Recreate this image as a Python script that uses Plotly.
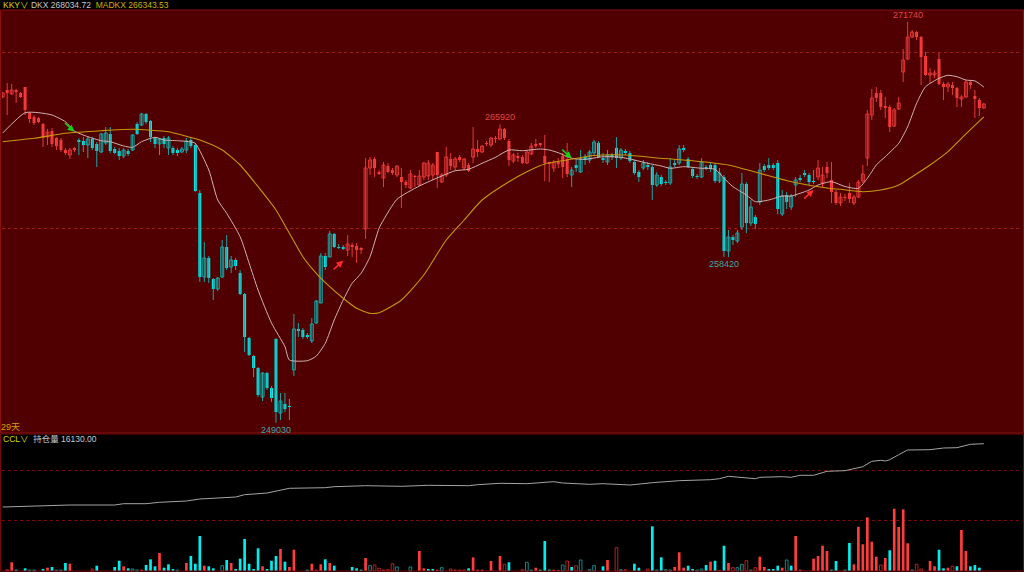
import plotly.graph_objects as go

# ---------------- data ----------------
open_ = [
    267470, 267866, 267640, 267866, 267696, 268036, 266564, 266338, 266281, 265942,
    265206, 265545, 265149, 265036, 264470, 264187, 264583, 265036, 264979, 264753,
    265093, 264810, 264357, 264866, 265376, 264527, 264413, 264130, 264413, 264470,
    265942, 265885, 266508, 266111, 265149, 264810, 265149, 264583, 264583, 264470,
    264357, 264470, 265036, 264753, 262036, 257282, 258357, 257169, 256603, 257282,
    258980, 257848, 258244, 257508, 256320, 253829, 252810, 252131, 250490, 251848,
    250999, 253773, 249584, 250094, 249980, 252018, 254339, 254282, 253999, 253659,
    254678, 255810, 258470, 258414, 259716, 258980, 258980, 258810, 259093, 259036,
    258923, 259999, 263451, 263961, 263225, 262885, 263564, 263338, 263055, 262942,
    262659, 262319, 262998, 262489, 262942, 262998, 263055, 264357, 262659, 263055,
    263961, 263508, 264074, 263451, 263621, 264074, 264527, 264357, 264866, 264753,
    265149, 265093, 265659, 264979, 263847, 264130, 264074, 263734, 264244, 264810,
    264866, 264130, 263791, 263451, 263791, 264130, 263961, 263055, 263621, 263225,
    264074, 263904, 264300, 264866, 264017, 263791, 264187, 264583, 264017, 264413,
    264300, 263791, 263225, 263451, 263621, 263508, 262489, 262942, 262659, 262602,
    263734, 263734, 264583, 263961, 263395, 262998, 262942, 263508, 263621, 263621,
    262715, 262942, 258753, 259546, 259319, 260112, 262546, 260338, 260678, 261527,
    263564, 263621, 263621, 263734, 260848, 261923, 261244, 262489, 262885, 263168,
    263055, 262715, 262942, 262602, 263508, 262772, 262093, 261470, 261810, 262036,
    261470, 261810, 262715, 264017, 266451, 267696, 267696, 266960, 266904, 265828,
    266791, 268885, 269621, 270866, 271149, 270866, 269790, 268715, 268715, 269621,
    268206, 268036, 268149, 267979, 267357, 267470, 268319, 267526, 267300, 266847,
]
high = [
    267753, 268262, 268206, 267923, 267753, 268036, 266621, 266451, 266338, 265998,
    265659, 265715, 265206, 265149, 264583, 264583, 264640, 265149, 265206, 265262,
    265206, 264923, 265432, 265772, 265772, 264640, 264583, 264583, 264527, 265376,
    266055, 266564, 266564, 266168, 265206, 265149, 265262, 265262, 264696, 264583,
    264640, 265149, 265149, 264866, 262206, 259263, 258470, 257225, 257282, 259376,
    259659, 258470, 258357, 257678, 256376, 253886, 252867, 252188, 251905, 251905,
    251112, 253829, 250716, 250716, 250377, 255188, 254678, 254395, 254112, 254961,
    255980, 258640, 258640, 259885, 259772, 259150, 259093, 259659, 259206, 259206,
    258980, 264017, 264074, 264074, 263338, 263791, 263734, 263451, 263621, 263451,
    262772, 263338, 263055, 263338, 263791, 263904, 263734, 264357, 263168, 264640,
    264300, 264074, 264187, 264017, 263734, 265772, 265036, 264753, 264979, 265206,
    265262, 265920, 265715, 265093, 264300, 264300, 264187, 264413, 264866, 265093,
    264866, 265319, 263791, 263904, 264017, 264300, 264866, 263508, 263961, 264470,
    264244, 264470, 265036, 264979, 264300, 264470, 264300, 265206, 264583, 264527,
    264413, 263904, 263338, 263904, 263791, 263621, 263225, 263055, 262772, 264017,
    263904, 264753, 264753, 264074, 263508, 263112, 264017, 263621, 263734, 263734,
    263451, 263055, 259942, 259659, 259942, 263168, 262659, 261640, 260791, 263734,
    263678, 264017, 263734, 263904, 262206, 262093, 261980, 262942, 263055, 263338,
    263168, 263338, 263904, 263508, 263791, 263791, 262206, 262036, 261980, 262602,
    261923, 262772, 263621, 266734, 267923, 268036, 267866, 267470, 267017, 266847,
    267470, 270187, 271740, 271262, 271205, 270922, 270017, 269111, 268998, 269960,
    268319, 268319, 268319, 268036, 267583, 268432, 268432, 267866, 267413, 267130,
]
low = [
    267413, 266451, 267583, 267130, 267413, 266451, 265998, 265885, 265998, 264640,
    264753, 264640, 264470, 264357, 264187, 263961, 264357, 264187, 264357, 264017,
    264470, 263508, 264300, 264753, 264300, 264244, 263904, 264017, 264130, 264413,
    265319, 265828, 265942, 264923, 264583, 264187, 264583, 264187, 264187, 264130,
    264300, 264300, 264583, 262093, 256999, 256999, 256942, 255980, 256489, 257225,
    257678, 257508, 257678, 256263, 253037, 252810, 251622, 250490, 250263, 250886,
    250207, 249030, 249188, 249641, 249188, 251678, 253886, 253773, 253773, 253546,
    254622, 255810, 257678, 258414, 258923, 258867, 258810, 258470, 258414, 258074,
    258584, 259433, 263055, 262942, 263055, 262376, 263168, 263055, 262942, 261187,
    262319, 262263, 262376, 262432, 262772, 262772, 262772, 262319, 262602, 262942,
    263338, 263338, 263791, 263338, 263225, 263734, 264074, 264300, 264696, 264640,
    264866, 265036, 265036, 263564, 263734, 263791, 263678, 263678, 264187, 264583,
    264640, 262715, 262659, 263225, 263451, 262885, 262942, 262376, 263225, 263168,
    263621, 263734, 264187, 264017, 263734, 263621, 263904, 263451, 263904, 264187,
    263734, 263055, 262659, 263338, 263338, 261640, 262376, 262432, 262489, 262489,
    263508, 263621, 264357, 263451, 262885, 262829, 262885, 263338, 263225, 262602,
    262602, 258420, 258414, 259093, 259206, 259942, 259772, 260168, 259999, 261357,
    263225, 263338, 263338, 260848, 260734, 261131, 261074, 261810, 262659, 262942,
    262489, 262546, 262772, 262376, 262885, 261470, 261357, 261300, 261583, 261470,
    261357, 261753, 262602, 263564, 266168, 267187, 266734, 266281, 265489, 265772,
    266734, 268319, 269564, 270809, 270696, 268149, 268658, 268262, 268545, 268149,
    267300, 267753, 267583, 266904, 266904, 267413, 267923, 266281, 266394, 266791,
]
close = [
    267696, 267696, 267866, 267753, 267470, 266734, 266225, 265998, 266055, 265149,
    265489, 264810, 264696, 264470, 264300, 264470, 264470, 264923, 264753, 265093,
    264583, 264413, 265376, 265432, 264413, 264300, 264130, 264470, 264244, 265319,
    265376, 266508, 266055, 265206, 264810, 265093, 264810, 265149, 264300, 264300,
    264527, 264979, 264696, 262149, 257282, 258357, 257225, 256603, 257225, 258980,
    257791, 258244, 257904, 256320, 253886, 252867, 252131, 250603, 251848, 250999,
    250433, 249641, 250263, 249811, 249924, 254339, 254225, 253886, 253886, 254622,
    255923, 258470, 257848, 259716, 258980, 258923, 258867, 259150, 258980, 258810,
    258810, 263451, 263904, 263451, 263112, 263621, 263225, 263168, 263564, 262659,
    262489, 263112, 262942, 262998, 263734, 263734, 263621, 263055, 263055, 264074,
    263564, 263961, 263904, 263961, 263281, 264527, 264357, 264696, 264810, 265149,
    265093, 265659, 265149, 263904, 264187, 264017, 263734, 264357, 264696, 264696,
    264753, 263734, 263678, 263791, 263678, 263508, 263112, 263338, 263451, 263961,
    263904, 264357, 264923, 264074, 263904, 264187, 264074, 264017, 264470, 264300,
    263847, 263168, 262942, 263734, 263508, 262489, 263055, 262546, 262602, 263508,
    263621, 264527, 264470, 263508, 262998, 262942, 263791, 263451, 263395, 262715,
    263168, 258753, 259546, 259376, 259772, 262546, 260338, 261244, 260282, 263338,
    263338, 263451, 263451, 261131, 261866, 261527, 261866, 262772, 262772, 263055,
    262659, 262659, 263451, 263055, 263168, 262093, 261470, 261810, 261753, 261697,
    261810, 262659, 263112, 266508, 267413, 267413, 266904, 266847, 265772, 266734,
    267130, 269564, 270866, 271149, 270866, 269734, 268715, 268828, 268828, 268206,
    268036, 268206, 267979, 267413, 267470, 268319, 268149, 267357, 266847, 267074,
]
volume = [
    0, 130, 870, 130, 0, 270, 100, 100, 0, 200,
    330, 400, 100, 100, 800, 730, 0, 0, 0, 0,
    200, 530, 0, 0, 0, 400, 1030, 470, 270, 200,
    100, 130, 600, 1170, 470, 1800, 330, 670, 200, 100,
    0, 800, 1500, 730, 3500, 530, 470, 270, 0, 530,
    1100, 800, 200, 1230, 3200, 730, 200, 2270, 470, 200,
    1030, 1500, 2200, 930, 400, 2130, 0, 0, 100, 730,
    100, 670, 1170, 800, 530, 0, 0, 0, 400, 270,
    130, 1300, 530, 600, 270, 130, 130, 730, 400, 0,
    0, 400, 0, 2000, 270, 200, 200, 130, 330, 0,
    200, 130, 100, 100, 270, 1370, 130, 130, 0, 1000,
    0, 1500, 670, 870, 0, 0, 130, 870, 100, 330,
    130, 3000, 130, 130, 100, 600, 1000, 400, 530, 1100,
    0, 130, 530, 0, 470, 1100, 0, 2330, 130, 130,
    0, 730, 330, 0, 200, 4470, 100, 1370, 130, 100,
    400, 1870, 330, 530, 200, 100, 200, 600, 930, 1030,
    100, 2530, 800, 330, 330, 670, 1030, 100, 330, 1430,
    400, 200, 200, 530, 330, 1100, 530, 3500, 130, 0,
    0, 1230, 1500, 2530, 2000, 130, 1000, 0, 100, 2800,
    670, 4430, 2670, 5370, 2930, 1430, 600, 1300, 2070, 6230,
    4400, 6170, 2770, 100, 670, 200, 0, 1000, 470, 2130,
    270, 330, 470, 470, 4100, 2000, 470, 600, 330, 0,
]
# R = up (solid), r = up (hollow), C = down (solid), c = down (hollow)
vol_kind = (
    "rrRCrCcccC" "RCccCRcccc" "rCcccCCRCc" "cRCCCRCCCc" "cRCCCRCCcc"
    "CRCCCCCCRC" "CCRCRRrrcR" "rRCRCccrCC" "CRcrrRrrcc" "cccRRCCRcc"
    "rRrrCRRRrR" "rRrCccrccR" "CCCRRcrCrc" "ccccCRcrcr" "cCCcrCcCcc"
    "RRRCCccCRC" "RCRrccrcrR" "RCCCRcCRRc" "cRRRRCCccC" "RRRRRRrRCR"
    "RRRcrrcRRC" "CRrCRRCCCc"
)

# DKX / MADKX indicator lines (sampled along the bars)
dkx_idx = [0, 5, 8, 11, 14, 16, 19, 22, 24, 27, 29, 31, 34, 36, 39, 42, 43, 46, 48, 50,
           53, 55, 57, 60, 63, 64, 68, 70, 72, 74, 76, 78, 80, 82, 84, 85, 88, 93, 98, 101,
           104, 107, 110, 113, 116, 120, 122, 124, 127, 130, 134, 138, 141, 144, 147, 149, 152, 156, 159, 161,
           163, 166, 168, 171, 174, 176, 180, 182, 185, 188, 191, 193, 195, 197, 200, 202, 204, 206, 209, 211,
           213, 215, 217, 219]
dkx_val = [265432, 266581, 266581, 266451, 266072, 265545, 265223, 264996, 264940, 264696,
           264623, 264940, 265189, 265036, 264996, 264930, 264849, 263338, 261640, 260887,
           259563, 258074, 256546, 254678, 253337, 252584, 252544, 252810, 253529, 254848,
           255980, 256925, 257491, 258431, 260038, 260508, 261680, 262432, 262998, 263298,
           263378, 263717, 264057, 264470, 264430, 264526, 264470, 264317, 264000, 263944,
           264091, 264057, 263904, 263717, 263564, 263434, 263525, 263434, 263378, 262868,
           262393, 261923, 261544, 261640, 261866, 261866, 262206, 262489, 262676, 262404,
           262302, 262868, 263621, 264091, 264849, 265789, 267113, 268053, 268528, 268698,
           268619, 268432, 268380, 268034.72]
madkx_idx = [0, 7, 14, 22, 29, 37, 40, 44, 49, 53, 57, 61, 64, 67, 70, 73, 76, 79, 82, 84,
             89, 94, 99, 103, 107, 113, 117, 121, 126, 132, 139, 147, 154, 162, 169, 176, 184, 187, 192, 196,
             200, 203, 207, 211, 214, 219]
madkx_val = [264940, 265132, 265415, 265562, 265642, 265506, 265320, 265036, 264470, 263621,
             262393, 261074, 259755, 258431, 257491, 256733, 256076, 255510, 255227, 255262,
             255980, 257395, 259376, 260508, 261640, 262676, 263242, 263678, 263904, 264159,
             264187, 264000, 263864, 263621, 263151, 262676, 262319, 262245, 262110, 262206,
             262489, 262959, 263621, 264374, 265132, 266343.53]

# open interest (持仓量)
oi_idx = [0, 5, 11, 15, 25, 27, 32, 35, 41, 44, 52, 54, 59, 61, 64, 72, 74, 81, 89, 95,
          104, 106, 111, 117, 121, 123, 125, 131, 134, 138, 140, 145, 151, 158, 160, 162, 166, 168, 169, 174,
          176, 178, 181, 184, 188, 190, 192, 194, 196, 197, 198, 200, 202, 207, 210, 213, 215, 216, 219]
oi_val = [13598, 13626, 13650, 13678, 13678, 13730, 13730, 13786, 13838, 13918, 13998, 14090, 14158, 14238,
          14346, 14370, 14410, 14450, 14426, 14466, 14450, 14490, 14546, 14530, 14586, 14610, 14558, 14506,
          14530, 14478, 14478, 14570, 14650, 14690, 14730, 14826, 14758, 14730, 14786, 14810, 14786, 14866,
          14866, 15026, 15050, 15118, 15210, 15426, 15466, 15438, 15490, 15690, 15878, 15890, 15958, 15970,
          16066, 16106, 16130]

# trend regimes (bar colour) and signal arrows
regime_start = [0, 17, 77, 127, 182]
regime_kind = ["up", "down", "up", "down", "up"]
arrow_idx = [16, 76, 127, 181]
arrow_price = [265506, 258204, 264000, 262206]
arrow_kind = ["sell", "buy", "sell", "buy"]

mark_high_idx = [111, 202]
mark_low_idx = [61, 161]
days_text = "29天"

# ---------------- styling ----------------
W, H = 1024, 572
FONT = "Liberation Sans, Noto Sans CJK SC, sans-serif"
BG_TOP = "#500000"
RED, RED_H, RED_W = "#ff3c3c", "#e83535", "#e23a3a"
CY, CY_H, CY_W = "#00eeee", "#12aaaa", "#1aa6a6"

N = len(close)


def regime(i):
    k = regime_kind[0]
    for s, kk in zip(regime_start, regime_kind):
        if i >= s:
            k = kk
    return k


fig = go.Figure()

# wicks
for kind, col in (("up", RED_W), ("down", CY_W)):
    xs, ys = [], []
    for i in range(N):
        if regime(i) == kind:
            xs += [i, i, None]
            ys += [low[i], high[i], None]
    fig.add_trace(go.Scatter(x=xs, y=ys, mode="lines", line=dict(color=col, width=1),
                             hoverinfo="skip", xaxis="x", yaxis="y"))

# bodies
MINB = 60
for kind, col, hcol in (("up", RED, RED_H), ("down", CY, CY_H)):
    for hollow in (False, True):
        xs, hs, bs = [], [], []
        for i in range(N):
            if regime(i) != kind:
                continue
            if (close[i] > open_[i]) != hollow:
                continue
            lo, hi = min(open_[i], close[i]), max(open_[i], close[i])
            xs.append(i)
            hs.append(max(hi - lo, MINB))
            bs.append(lo)
        fig.add_trace(go.Bar(
            x=xs, y=hs, base=bs, width=0.66, xaxis="x", yaxis="y",
            marker=dict(color=BG_TOP if hollow else col,
                        line=dict(color=hcol if hollow else col, width=1 if hollow else 0)),
            hoverinfo="skip"))

# indicator lines
fig.add_trace(go.Scatter(x=dkx_idx, y=dkx_val, mode="lines", xaxis="x", yaxis="y",
                         line=dict(color="#d2b2b2", width=1, shape="spline", smoothing=0.6),
                         hoverinfo="skip"))
fig.add_trace(go.Scatter(x=madkx_idx, y=madkx_val, mode="lines", xaxis="x", yaxis="y",
                         line=dict(color="#c4980c", width=1.1, shape="spline", smoothing=0.6),
                         hoverinfo="skip"))

# volume bars
vstyle = {"R": ("#ff3c3c", "#ff3c3c", 0), "C": ("#00eeee", "#00eeee", 0),
          "r": ("#000000", "#b42222", 1), "c": ("#000000", "#108a8a", 1)}
for k, (fc, lc, lw) in vstyle.items():
    xs = [i for i in range(N) if vol_kind[i] == k and volume[i] > 0]
    ys = [volume[i] for i in xs]
    fig.add_trace(go.Bar(x=xs, y=ys, width=0.6, xaxis="x2", yaxis="y2",
                         marker=dict(color=fc, line=dict(color=lc, width=lw)), hoverinfo="skip"))

# open interest
fig.add_trace(go.Scatter(x=oi_idx, y=oi_val, mode="lines", xaxis="x2", yaxis="y3",
                         line=dict(color="#a4a4a4", width=1), hoverinfo="skip"))

# ---------------- layout ----------------
X0 = (2 - 2.7) / 4.48
X1 = X0 + 1020 / 4.48
top_dom = [1 - 433 / H, 1 - 10 / H]
bot_dom = [0, 1 - 434 / H]

fig.update_layout(
    width=W, height=H, margin=dict(l=0, r=0, t=0, b=0),
    paper_bgcolor="#000000", plot_bgcolor="rgba(0,0,0,0)",
    barmode="overlay", showlegend=False, font=dict(family=FONT),
    xaxis=dict(domain=[2 / W, 1022 / W], range=[X0, X1], visible=False, anchor="y"),
    xaxis2=dict(domain=[2 / W, 1022 / W], range=[X0, X1], visible=False, matches="x", anchor="y2"),
    yaxis=dict(domain=top_dom, range=[248452, 272394], showticklabels=False, ticks="",
               zeroline=False, showline=False, tickvals=[260000, 270000],
               gridcolor="#9a1c1c", griddash="dot", gridwidth=1),
    yaxis2=dict(domain=bot_dom, range=[-100, 13700], showticklabels=False, ticks="",
                zeroline=False, showline=False, tickvals=[5100, 10100],
                gridcolor="#7a0a0a", griddash="dot", gridwidth=1),
    yaxis3=dict(overlaying="y2", range=[10998, 16518], visible=False),
)

# panel backgrounds / frames
fig.add_shape(type="rect", xref="paper", yref="paper", x0=0, x1=1,
              y0=top_dom[0], y1=top_dom[1], fillcolor=BG_TOP, line=dict(width=0), layer="below")
fig.add_shape(type="rect", xref="paper", yref="paper", x0=0.5 / W, x1=1023.5 / W,
              y0=top_dom[0], y1=top_dom[1], line=dict(color="#8a1010", width=1), layer="above")
fig.add_shape(type="rect", xref="paper", yref="paper", x0=0.5 / W, x1=1023.5 / W,
              y0=1 / H, y1=bot_dom[1], line=dict(color="#7a0808", width=1), layer="above")

# signal arrows
for i, p, k in zip(arrow_idx, arrow_price, arrow_kind):
    col = "#18d018" if k == "sell" else "#ff2a2a"
    fig.add_annotation(x=i, y=p, xref="x", yref="y", text="", showarrow=True,
                       ax=-11, ay=-10 if k == "sell" else 10, arrowhead=2, arrowsize=0.9,
                       arrowwidth=1.5, arrowcolor=col)

# high / low marks
for i in mark_high_idx:
    fig.add_annotation(x=i, y=high[i], xref="x", yref="y", text=f"{high[i]:.0f}",
                       showarrow=False, yanchor="bottom", yshift=0,
                       font=dict(color="#e04444", size=9, family=FONT))
for i in mark_low_idx:
    fig.add_annotation(x=i, y=low[i], xref="x", yref="y", text=f"{low[i]:.0f}",
                       showarrow=False, yanchor="top", yshift=0,
                       font=dict(color="#3aa6a6", size=9, family=FONT))

# header texts (one annotation per line, coloured spans)
HDR_Y = 1 - 5 / H
fig.add_annotation(
    x=2 / W, y=HDR_Y, xref="paper", yref="paper", showarrow=False, xanchor="left",
    yanchor="middle", borderpad=0, font=dict(size=8.5, family=FONT, color="#c8c8c8"),
    text=(f"<span style='color:#d8d800'>KKY∨</span> "
          f"<span style='color:#c8c8c8'>DKX {dkx_val[-1]:.2f}</span>  "
          f"<span style='color:#cdb000'>MADKX {madkx_val[-1]:.2f}</span>"))
fig.add_annotation(
    x=2 / W, y=1 - 439 / H, xref="paper", yref="paper", showarrow=False, xanchor="left",
    yanchor="middle", borderpad=0, font=dict(size=8.5, family=FONT, color="#c8c8c8"),
    text=(f"<span style='color:#d8d800'>CCL∨</span>  "
          f"<span style='color:#c8c8c8'>持仓量 {oi_val[-1]:.2f}</span>"))
fig.add_annotation(
    x=0, y=1 - 427 / H, xref="paper", yref="paper", showarrow=False, xanchor="left",
    yanchor="middle", borderpad=0, font=dict(size=9, family=FONT, color="#d8a000"),
    text=days_text)

fig.write_html("out.html", config={"displayModeBar": False, "staticPlot": True},
               post_script="document.body.style.margin='0';")
